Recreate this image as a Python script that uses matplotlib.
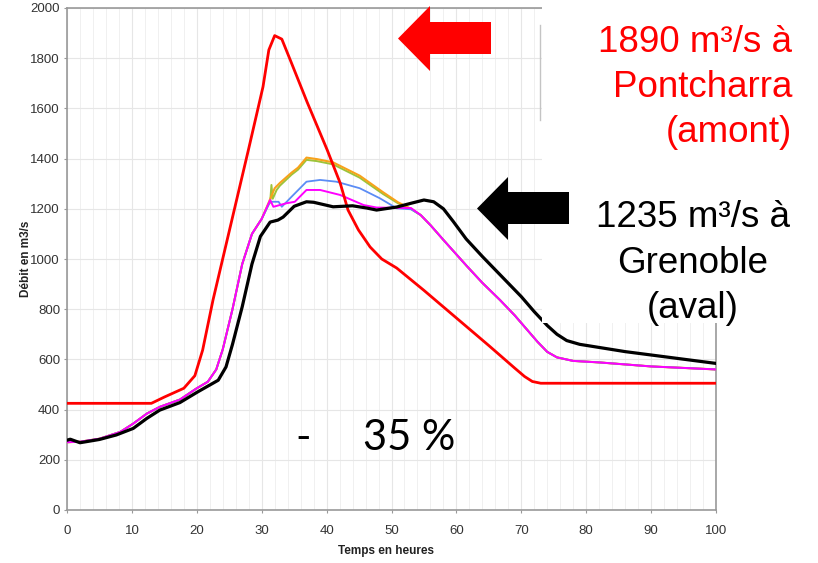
import matplotlib
matplotlib.use("Agg")
import matplotlib.pyplot as plt
from matplotlib.patches import Polygon, Rectangle
from matplotlib.ticker import MultipleLocator

# Data ----------------------------------------------------------------------
# Pontcharra (amont), red
red_x = [0, 13, 15, 18, 19.7, 20.9, 22.5, 25.4, 28, 30.2, 31.1, 32, 33.1, 34.4,
         37, 40.1, 42.1, 43.3, 44.9, 46.7, 48.5, 50.8, 55, 60, 65, 69, 70.5, 71.7, 73, 100]
red_y = [425, 425, 450, 485, 535, 637, 837, 1155, 1440, 1686, 1833, 1890, 1876, 1793,
         1625, 1434, 1302, 1195, 1116, 1048, 1000, 964, 875, 765, 655, 565, 532, 512, 505, 505]

# Grenoble (aval), black
black_x = [0, 0.5, 2, 5, 7.6, 10.2, 12.3, 14.3, 17.4, 20.1, 23.3, 24.5, 25.5, 27, 28.5,
           29.8, 31.3, 32.5, 33.3, 35, 36.9, 38, 41, 44, 46.2, 47.7, 50.8, 53, 55,
           56.5, 58, 59.5, 61.5, 64, 67, 70, 72, 74, 75.5, 77, 79, 86, 100]
black_y = [278, 282, 268, 281, 299, 325, 365, 398, 428, 470, 517, 570, 660, 810, 980,
           1090, 1147, 1155, 1167, 1210, 1228, 1226, 1208, 1212, 1203, 1195, 1207, 1222, 1235,
           1228, 1200, 1150, 1080, 1010, 930, 850, 790, 735, 700, 675, 660, 631, 584]

# shared rising / falling limbs of the four intermediate curves
rise_x = [0, 2, 5, 8.2, 10.2, 12.3, 14.3, 17.4, 20, 21.7, 23, 24, 25.5, 27, 28.5, 30]
rise_y = [270, 272, 284, 311, 344, 384, 411, 440, 485, 511, 560, 640, 800, 980, 1100, 1160]
fall_x = [54.5, 56, 58, 61.6, 64, 66.7, 69, 71, 72.5, 74, 75.5, 78, 82, 90, 100]
fall_y = [1175, 1135, 1076, 972, 905, 837, 775, 715, 670, 630, 608, 594, 588, 572, 560]

orange_x = rise_x + [31, 32, 32.8, 34.6, 35.6, 36.9, 38.5, 41, 45.1, 48.7, 51, 53] + fall_x
orange_y = rise_y + [1220, 1282, 1303, 1344, 1364, 1404, 1398, 1385, 1332, 1266, 1226, 1200] + fall_y
green_x = rise_x + [31, 31.3, 31.5, 31.7, 32.3, 32.8, 34.6, 35.6, 36.9, 38.5, 41, 45.1, 48.7, 51, 53] + fall_x
green_y = rise_y + [1215, 1225, 1295, 1240, 1275, 1292, 1336, 1356, 1395, 1390, 1377, 1324, 1259, 1222, 1200] + fall_y
blue_x = rise_x + [31.3, 32.6, 33.1, 34.6, 36.9, 39, 41.5, 45.1, 48.2, 50.8, 53] + fall_x
blue_y = rise_y + [1228, 1228, 1208, 1248, 1308, 1315, 1308, 1282, 1242, 1202, 1198] + fall_y
magenta_x = rise_x + [31.3, 31.8, 33.8, 35.1, 36.9, 39, 42.1, 45.7, 47.7, 53] + fall_x
magenta_y = rise_y + [1235, 1208, 1222, 1228, 1275, 1275, 1255, 1215, 1205, 1203] + fall_y

W, H = 818, 563


def fx(px):
    return px / W


def fy(py):
    return 1 - py / H


# Plot -----------------------------------------------------------------------
fig = plt.figure(figsize=(W / 100, H / 100), dpi=100)
ax = fig.add_axes([fx(67), fy(510), fx(716) - fx(67), fy(8) - fy(510)])

ax.plot(green_x, green_y, color="#9cc43a", lw=1.4, zorder=3)
ax.plot(orange_x, orange_y, color="#f7a21b", lw=1.5, zorder=3)
ax.plot(blue_x, blue_y, color="#5b8cf5", lw=1.3, zorder=3)
ax.plot(magenta_x, magenta_y, color="#ff00ff", lw=1.4, zorder=3)
ax.plot(red_x, red_y, color="#ff0000", lw=2.0, zorder=4)
ax.plot(black_x, black_y, color="black", lw=2.3, zorder=4)

ax.set_xlim(0, 100)
ax.set_ylim(0, 2000)
ax.xaxis.set_major_locator(MultipleLocator(10))
ax.xaxis.set_minor_locator(MultipleLocator(2))
ax.yaxis.set_major_locator(MultipleLocator(200))
ax.grid(True, which="major", color="#e6e6e6", lw=0.8)
ax.grid(True, which="minor", axis="x", color="#eeeeee", lw=0.6)
ax.set_axisbelow(True)
for s in ax.spines.values():
    s.set_color("#999999")
    s.set_linewidth(1.2)

tick_font = ["Liberation Sans Narrow", "Liberation Sans"]
ax.tick_params(which="major", length=2.5, color="#999999", labelcolor="#333333", labelsize=9.5)
ax.tick_params(which="minor", length=0)
ax.tick_params(axis="x", pad=8.5)
ax.tick_params(axis="y", pad=2.5)
for lab in ax.get_xticklabels() + ax.get_yticklabels():
    lab.set_family(tick_font)

fig.text(fx(26), fy(259), "Débit en m3/s", rotation=90, ha="center", va="center",
         fontsize=8.5, fontweight="bold", family=tick_font, color="#222222")
fig.text(fx(386), fy(551), "Temps en heures", ha="center", va="center",
         fontsize=8.5, fontweight="bold", family=tick_font, color="#222222")

# Overlay: white panel behind the labels ------------------------------------
fig.add_artist(Rectangle((fx(542), fy(323)), 1 - fx(542), 1 - fy(323),
                         transform=fig.transFigure, facecolor="white",
                         edgecolor="none", zorder=5))
fig.add_artist(plt.Line2D([fx(540), fx(540)], [fy(25), fy(120)],
                          transform=fig.transFigure, color="#c4c4c4", lw=1, zorder=5))

red_arrow = [(398, 38.5), (430, 6), (430, 22), (491, 22), (491, 54), (430, 54), (430, 71)]
black_arrow = [(477, 208.5), (508, 177), (508, 192), (569, 192), (569, 224), (508, 224), (508, 240)]
fig.add_artist(Polygon([(fx(a), fy(b)) for a, b in red_arrow], closed=True,
                       transform=fig.transFigure, facecolor="#ff0000", edgecolor="none", zorder=6))
fig.add_artist(Polygon([(fx(a), fy(b)) for a, b in black_arrow], closed=True,
                       transform=fig.transFigure, facecolor="black", edgecolor="none", zorder=6))

big = ["Liberation Sans", "DejaVu Sans"]
for txt, py in [("1890 m³/s à", 52), ("Pontcharra", 97), ("(amont)", 142)]:
    fig.text(fx(792), fy(py), txt, ha="right", va="baseline", fontsize=26.5,
             color="#ff0000", family=big, zorder=7)
for txt, py in [("1235 m³/s à", 227), ("Grenoble", 273), ("(aval)", 318)]:
    fig.text(fx(693), fy(py), txt, ha="center", va="baseline", fontsize=26.5,
             color="black", family=big, zorder=7)

fig.text(fx(303), fy(450), "-", ha="center", va="baseline", fontsize=30,
         family=["Lato", "DejaVu Sans"], zorder=7)
fig.text(fx(363), fy(450), "35 %", ha="left", va="baseline", fontsize=30,
         family=["Lato", "DejaVu Sans"], zorder=7)

fig.savefig("out.png", dpi=100)
